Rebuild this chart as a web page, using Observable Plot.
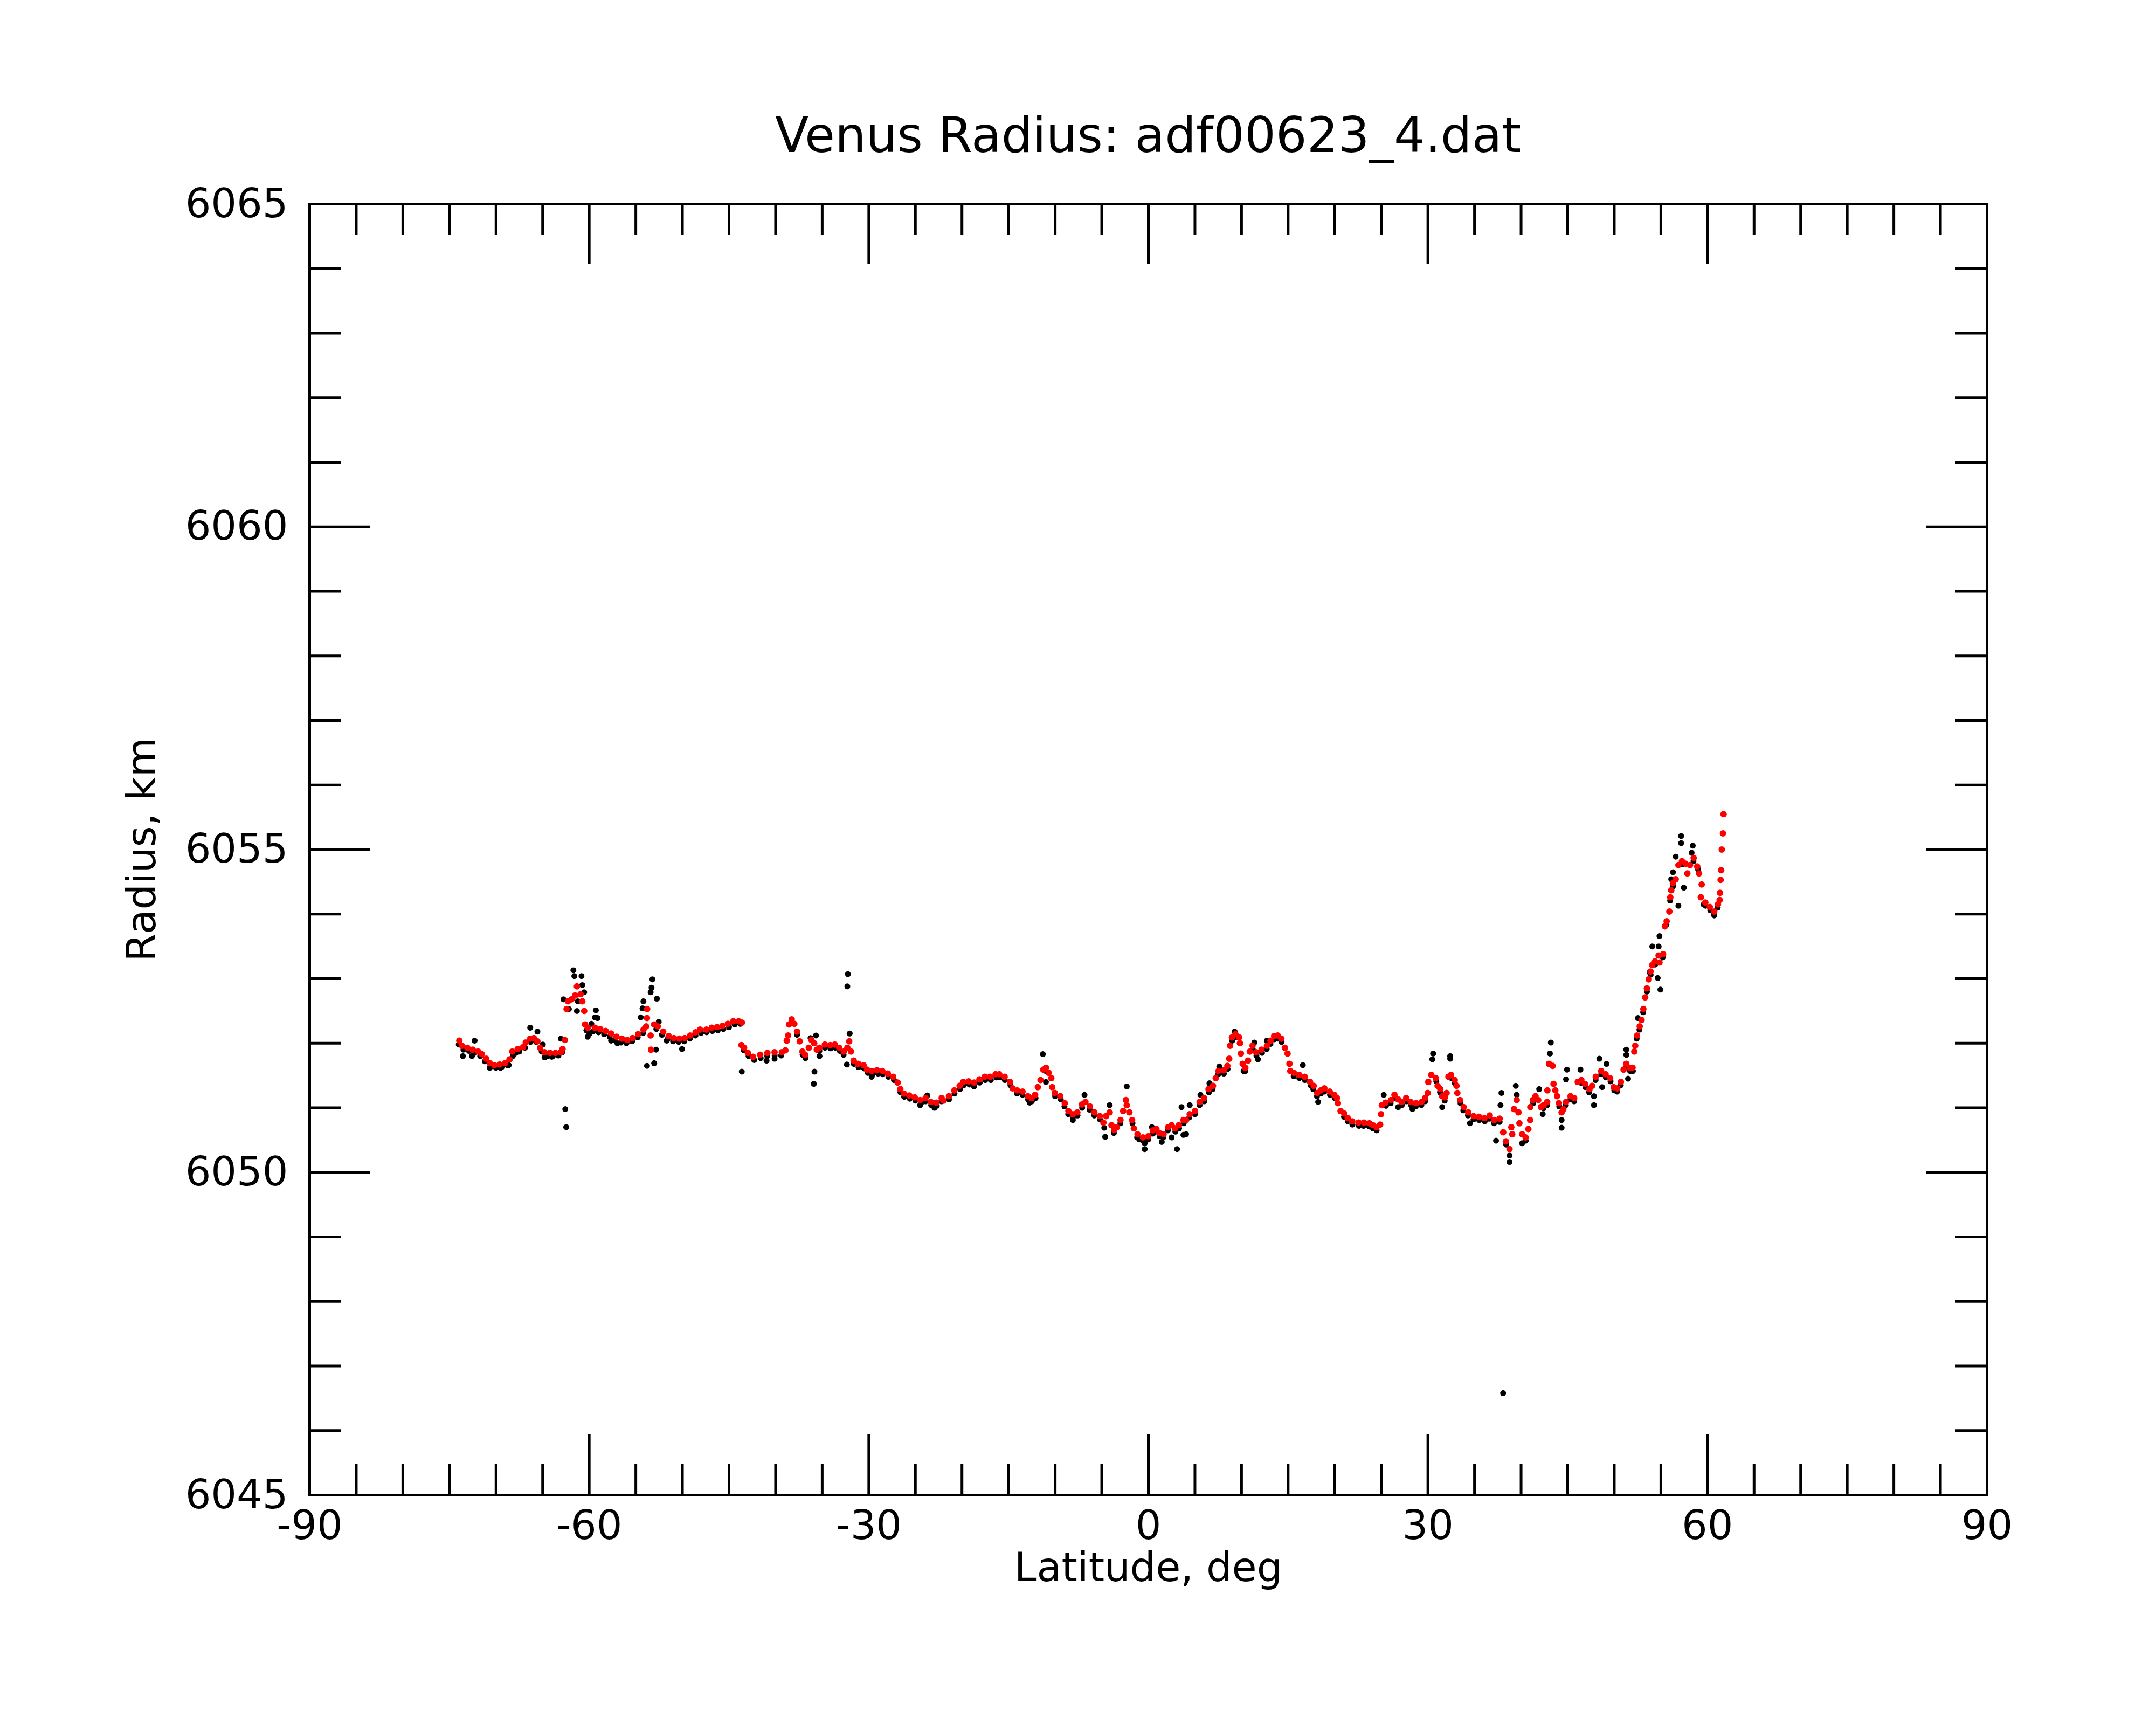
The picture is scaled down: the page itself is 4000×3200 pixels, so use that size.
<!DOCTYPE html>
<html><head><meta charset="utf-8">
<script src="https://cdn.jsdelivr.net/npm/d3@7"></script>
<script src="https://cdn.jsdelivr.net/npm/@observablehq/plot@0.6"></script>
<style>
html,body{margin:0;padding:0;background:#fff;}
#wrap{width:4000px;height:3200px;font-family:"DejaVu Sans";background:#fff;}
#title{box-sizing:border-box;height:330px;padding-top:205px;padding-left:260px;width:4000px;text-align:center;font-size:91px;line-height:91px;color:#000;font-family:"DejaVu Sans";}
</style></head><body>
<div id="wrap"><div id="title">Venus Radius: adf00623_4.dat</div><div id="chart"></div></div>
<script>
// Smoothed radius (red)
const redLat = [-73.94,-73.65,-73.08,-72.50,-71.92,-71.53,-71.05,-70.67,-70.18,-69.61,-69.03,-68.55,-68.26,-67.68,-67.10,-66.81,-66.33,-65.94,-65.56,-65.27,-64.79,-64.21,-63.63,-63.05,-62.86,-62.61,-62.43,-62.28,-61.89,-61.51,-61.32,-60.93,-60.74,-60.54,-60.45,-60.16,-59.39,-58.81,-58.23,-57.65,-57.07,-56.50,-55.92,-55.34,-54.76,-54.18,-53.89,-53.80,-53.78,-53.41,-53.37,-53.03,-52.64,-52.06,-51.48,-50.91,-50.33,-49.75,-49.17,-48.59,-48.11,-47.43,-46.85,-46.27,-45.70,-45.12,-44.54,-43.96,-43.61,-43.67,-43.38,-42.98,-42.42,-41.65,-40.88,-40.11,-39.33,-38.95,-38.80,-38.66,-38.56,-38.27,-37.99,-37.70,-37.41,-37.12,-36.83,-36.44,-36.15,-35.86,-35.58,-35.29,-34.71,-34.13,-33.65,-33.17,-32.68,-32.30,-32.10,-31.91,-31.62,-31.14,-30.56,-30.18,-29.69,-29.12,-28.54,-27.96,-27.38,-26.90,-26.61,-26.23,-25.65,-25.07,-24.49,-23.91,-23.33,-22.75,-22.18,-21.98,-21.40,-20.82,-20.25,-19.86,-19.28,-18.70,-18.12,-17.55,-16.97,-16.39,-16.00,-15.42,-14.85,-14.56,-14.08,-13.50,-12.92,-12.53,-12.15,-11.86,-11.57,-11.28,-10.99,-10.70,-10.41,-10.32,-10.03,-9.45,-8.97,-8.58,-8.10,-7.62,-7.14,-6.75,-6.27,-5.79,-5.21,-4.82,-4.53,-4.15,-3.95,-3.67,-3.38,-2.99,-2.70,-2.41,-2.32,-2.03,-1.74,-1.55,-1.16,-0.58,0.00,0.48,0.87,1.16,1.64,2.12,2.50,2.89,3.28,3.76,4.05,4.44,5.01,5.50,5.98,6.46,6.94,7.23,7.52,8.10,8.48,8.68,8.77,8.97,9.35,9.74,9.83,9.93,10.12,10.41,10.70,10.89,11.18,11.57,12.15,12.73,13.11,13.50,13.88,14.27,14.65,14.94,15.14,15.23,15.62,16.20,16.77,17.35,17.74,18.12,18.51,18.89,19.47,19.96,20.24,20.34,20.63,21.02,21.40,21.88,22.56,23.14,23.71,24.10,24.49,24.87,24.97,25.06,25.45,26.03,26.41,26.80,27.18,27.67,28.15,28.73,29.31,29.69,29.98,30.04,30.37,30.85,31.04,31.33,31.53,31.82,32.01,32.20,32.49,32.88,33.07,33.16,33.45,33.84,34.32,34.90,35.48,36.06,36.63,37.12,37.70,38.08,38.37,38.76,38.95,39.05,39.24,39.53,39.72,39.82,40.11,40.49,40.78,40.97,40.99,41.26,41.55,41.84,42.13,42.42,42.80,42.82,42.99,43.38,43.48,43.67,43.86,44.06,44.35,44.54,44.83,45.31,45.70,46.08,46.47,46.85,47.34,47.62,48.01,48.59,49.07,49.55,49.94,50.32,50.71,51.00,51.29,51.67,51.96,52.15,52.25,52.44,52.73,52.93,53.12,53.31,53.50,53.70,53.89,54.08,54.37,54.76,54.85,55.24,55.43,55.62,55.91,56.01,56.11,56.30,56.59,56.88,57.26,57.65,57.84,58.13,58.52,58.90,59.09,59.38,59.29,59.77,60.25,60.73,61.12,61.31,61.35,61.41,61.47,61.54,61.66,61.73];
const redR = [6052.04,6051.96,6051.93,6051.90,6051.87,6051.83,6051.76,6051.69,6051.66,6051.67,6051.69,6051.75,6051.87,6051.91,6051.94,6052.01,6052.07,6052.08,6052.03,6051.93,6051.86,6051.85,6051.85,6051.86,6051.91,6052.05,6052.53,6052.65,6052.68,6052.74,6052.88,6052.76,6052.65,6052.50,6052.29,6052.24,6052.24,6052.22,6052.19,6052.15,6052.10,6052.07,6052.05,6052.08,6052.14,6052.21,6052.26,6052.39,6052.53,6052.12,6051.90,6052.29,6052.26,6052.18,6052.11,6052.08,6052.07,6052.08,6052.12,6052.17,6052.21,6052.21,6052.24,6052.25,6052.27,6052.30,6052.34,6052.34,6052.32,6051.97,6051.93,6051.85,6051.79,6051.82,6051.85,6051.86,6051.86,6051.89,6052.04,6052.12,6052.29,6052.37,6052.30,6052.18,6052.03,6051.87,6051.82,6051.93,6052.05,6052.00,6051.90,6051.93,6051.98,6051.97,6051.98,6051.93,6051.87,6051.93,6052.03,6051.87,6051.73,6051.68,6051.66,6051.59,6051.57,6051.58,6051.57,6051.53,6051.48,6051.39,6051.29,6051.22,6051.19,6051.16,6051.12,6051.15,6051.09,6051.08,6051.15,6051.11,6051.18,6051.27,6051.34,6051.40,6051.41,6051.39,6051.44,6051.48,6051.48,6051.52,6051.52,6051.48,6051.40,6051.30,6051.27,6051.25,6051.18,6051.15,6051.20,6051.32,6051.43,6051.59,6051.62,6051.54,6051.46,6051.32,6051.23,6051.18,6051.07,6050.95,6050.90,6050.93,6051.05,6051.09,6051.02,6050.93,6050.87,6050.77,6050.87,6050.93,6050.73,6050.66,6050.70,6050.81,6050.95,6051.12,6051.04,6050.93,6050.81,6050.68,6050.59,6050.54,6050.56,6050.65,6050.67,6050.61,6050.59,6050.70,6050.73,6050.68,6050.73,6050.81,6050.81,6050.90,6050.95,6051.09,6051.15,6051.29,6051.34,6051.46,6051.57,6051.58,6051.65,6051.76,6051.96,6052.09,6052.14,6052.09,6052.00,6051.84,6051.68,6051.62,6051.73,6051.87,6051.96,6051.86,6051.90,6051.96,6052.04,6052.11,6052.12,6052.07,6051.93,6051.84,6051.68,6051.57,6051.54,6051.51,6051.48,6051.40,6051.34,6051.23,6051.27,6051.30,6051.25,6051.20,6051.15,6051.07,6050.95,6050.91,6050.84,6050.79,6050.77,6050.77,6050.76,6050.73,6050.70,6050.74,6050.90,6051.04,6051.08,6051.12,6051.20,6051.13,6051.09,6051.15,6051.09,6051.07,6051.09,6051.15,6051.23,6051.40,6051.51,6051.46,6051.34,6051.29,6051.18,6051.16,6051.23,6051.48,6051.51,6051.43,6051.34,6051.23,6051.12,6051.01,6050.93,6050.87,6050.86,6050.84,6050.88,6050.81,6050.83,6050.62,6050.48,6050.36,6050.70,6050.59,6050.98,6051.12,6050.93,6050.76,6050.59,6050.54,6050.67,6050.81,6051.01,6051.12,6051.18,6051.12,6051.01,6051.04,6051.09,6051.27,6051.68,6051.65,6051.37,6051.27,6051.18,6051.07,6050.93,6050.98,6051.09,6051.18,6051.15,6051.40,6051.43,6051.37,6051.29,6051.34,6051.48,6051.57,6051.52,6051.46,6051.32,6051.30,6051.40,6051.59,6051.68,6051.62,6051.62,6051.87,6051.96,6052.12,6052.26,6052.36,6052.53,6052.71,6052.85,6052.99,6053.11,6053.21,6053.27,6053.36,6053.25,6053.38,6053.81,6053.89,6054.04,6054.26,6054.37,6054.48,6054.54,6054.76,6054.82,6054.78,6054.63,6054.76,6054.87,6054.74,6054.63,6054.46,6054.26,6054.18,6054.11,6054.04,6054.15,6054.22,6054.33,6054.53,6054.68,6055.00,6055.25,6055.55];

// Raw radius samples (black): track points
const blackLat = [-74.0,-73.5,-72.9,-72.3,-71.7,-71.2,-70.6,-70.0,-69.4,-68.8,-68.2,-67.5,-66.9,-66.3,-65.7,-65.1,-64.5,-63.9,-63.3,-62.9,-60.3,-59.6,-59.0,-58.4,-57.8,-57.2,-56.6,-56.0,-55.4,-54.8,-54.2,-52.8,-52.2,-51.6,-51.0,-50.4,-49.8,-49.2,-48.6,-48.0,-47.4,-46.8,-46.2,-45.6,-45.0,-44.4,-43.8,-43.4,-42.9,-42.3,-41.6,-40.9,-40.1,-39.4,-38.3,-37.7,-37.1,-36.8,-35.3,-34.7,-34.1,-33.6,-33.1,-32.7,-31.6,-31.1,-30.5,-30.1,-29.6,-29.0,-28.5,-27.9,-27.3,-26.6,-26.2,-25.6,-25.0,-24.4,-23.9,-23.3,-22.7,-22.2,-21.4,-20.8,-20.2,-19.8,-19.2,-18.1,-17.5,-16.9,-16.3,-15.9,-15.4,-14.8,-14.1,-13.5,-12.9,-12.5,-12.1,-11.0,-10.0,-9.4,-9.0,-8.6,-8.1,-7.6,-7.1,-6.3,-5.8,-5.2,-3.7,-3.0,-1.7,-1.2,-0.6,0.0,0.5,1.2,1.6,2.1,2.9,3.3,3.8,4.4,5.0,5.5,6.0,6.5,6.9,7.5,8.1,8.5,9.0,9.3,10.4,11.2,11.6,12.2,12.7,13.1,13.5,13.9,14.3,15.6,16.2,16.8,17.4,17.7,18.1,18.5,18.9,19.5,20.0,21.0,21.4,21.9,22.6,23.1,23.7,24.1,24.5,25.5,26.0,26.4,27.2,27.7,28.2,28.7,29.3,29.7,30.9,31.3,31.8,32.5,32.9,33.5,33.8,34.3,34.9,35.5,36.1,36.6,37.1,37.7,38.4,40.5,41.3,41.6,42.4,42.8,44.1,44.8,45.3,45.7,46.5,46.9,47.3,48.0,48.6,49.1,49.6,50.0,50.3,50.7,51.3,51.7,52.0,52.4,52.7,53.1,53.5,53.9,54.4,55.2,55.6,56.0,56.3,57.3,58.5,59.0,59.8,60.3,60.7,61.1];
const blackR = [6051.98,6051.90,6051.88,6051.85,6051.80,6051.72,6051.64,6051.62,6051.63,6051.66,6051.80,6051.87,6051.93,6052.02,6052.02,6051.87,6051.80,6051.80,6051.81,6051.86,6052.20,6052.18,6052.17,6052.14,6052.10,6052.05,6052.01,6052.00,6052.03,6052.09,6052.16,6052.22,6052.13,6052.06,6052.03,6052.02,6052.03,6052.07,6052.12,6052.16,6052.17,6052.19,6052.20,6052.22,6052.25,6052.29,6052.30,6051.89,6051.80,6051.74,6051.77,6051.80,6051.81,6051.81,6052.33,6052.13,6051.82,6051.77,6051.88,6051.93,6051.92,6051.93,6051.88,6051.82,6051.68,6051.63,6051.61,6051.54,6051.52,6051.53,6051.52,6051.48,6051.43,6051.24,6051.17,6051.14,6051.11,6051.07,6051.10,6051.04,6051.03,6051.10,6051.13,6051.22,6051.29,6051.35,6051.36,6051.39,6051.43,6051.43,6051.47,6051.47,6051.43,6051.35,6051.22,6051.20,6051.13,6051.10,6051.15,6051.57,6051.18,6051.13,6051.02,6050.90,6050.85,6050.88,6051.00,6050.97,6050.88,6050.82,6050.61,6050.76,6050.76,6050.54,6050.49,6050.51,6050.60,6050.56,6050.54,6050.65,6050.63,6050.68,6050.76,6050.85,6050.90,6051.04,6051.10,6051.24,6051.29,6051.52,6051.53,6051.60,6052.04,6052.09,6051.57,6051.91,6051.81,6051.85,6051.91,6051.99,6052.06,6052.07,6052.02,6051.49,6051.46,6051.43,6051.35,6051.29,6051.18,6051.22,6051.25,6051.20,6051.15,6050.86,6050.79,6050.74,6050.72,6050.72,6050.71,6050.68,6050.65,6051.03,6051.07,6051.15,6051.04,6051.10,6051.04,6051.02,6051.04,6051.10,6051.41,6051.24,6051.11,6051.46,6051.38,6051.07,6050.96,6050.88,6050.82,6050.81,6050.79,6050.83,6050.76,6050.78,6050.43,6050.49,6051.07,6051.13,6050.99,6051.04,6051.02,6051.04,6051.13,6051.10,6051.38,6051.32,6051.24,6051.43,6051.52,6051.47,6051.41,6051.27,6051.25,6051.35,6051.63,6051.57,6051.57,6052.07,6052.21,6052.48,6052.80,6053.06,6053.22,6053.33,6053.84,6054.21,6054.43,6054.77,6054.82,6054.69,6054.13,6054.06,6053.99,6054.10];

// Raw radius samples (black): scattered points off the track
const outLat = [-73.56,-72.59,-72.30,-70.67,-69.51,-68.64,-67.87,-66.33,-65.56,-64.98,-64.79,-64.01,-63.05,-62.76,-62.57,-62.47,-62.18,-61.70,-61.60,-61.32,-61.22,-60.83,-60.74,-60.54,-60.16,-59.97,-59.77,-59.39,-59.29,-59.10,-57.65,-56.98,-54.47,-54.28,-54.18,-53.80,-53.41,-53.31,-53.22,-53.03,-52.83,-52.74,-52.54,-51.68,-50.04,-43.63,-40.97,-40.11,-36.25,-35.83,-35.90,-35.67,-35.29,-32.35,-32.30,-32.24,-32.05,-29.69,-24.49,-23.72,-22.95,-18.70,-12.73,-11.32,-10.99,-8.10,-6.85,-4.73,-4.63,-4.15,-2.32,-0.96,-0.39,-0.39,0.38,1.44,2.50,3.08,3.56,3.76,4.05,4.44,5.59,6.56,7.62,9.26,10.22,11.38,11.76,12.73,16.58,18.22,25.26,26.80,28.34,30.47,30.56,31.53,32.39,32.39,34.51,37.31,37.79,37.89,38.07,38.76,38.76,39.43,39.53,40.11,41.94,42.32,43.09,43.19,44.35,44.35,44.83,44.93,46.37,47.82,47.82,48.40,48.69,49.16,50.23,51.29,51.29,51.48,52.54,53.79,54.08,54.66,54.76,54.85,54.95,56.11,56.30,56.59,56.88,57.17,57.17,57.46,58.42,58.30,59.58,60.73];
const outR = [6051.80,6051.80,6052.04,6051.62,6051.62,6051.66,6051.85,6052.24,6052.18,6051.98,6051.78,6051.79,6052.07,6052.68,6050.98,6050.70,6052.53,6053.13,6053.04,6052.50,6052.65,6053.04,6052.90,6052.79,6052.10,6052.15,6052.30,6052.40,6052.51,6052.39,6052.04,6052.00,6052.40,6052.54,6052.65,6051.65,6052.79,6052.86,6052.99,6051.69,6051.90,6052.69,6052.33,6052.04,6051.91,6051.56,6051.73,6051.76,6052.08,6051.56,6051.37,6052.12,6051.80,6051.67,6052.88,6053.07,6052.15,6051.48,6051.04,6051.19,6051.00,6051.33,6051.08,6051.83,6051.40,6050.81,6051.20,6050.69,6050.55,6051.04,6051.33,6050.51,6050.45,6050.36,6050.70,6050.47,6050.54,6050.36,6051.01,6050.58,6050.59,6051.04,6051.20,6051.38,6051.64,6052.18,6051.57,6052.01,6051.75,6052.04,6051.66,6051.09,6051.20,6051.01,6050.98,6051.75,6051.84,6051.01,6051.80,6051.76,6050.76,6050.49,6051.04,6051.23,6046.58,6050.16,6050.26,6051.34,6051.20,6050.45,6051.29,6050.90,6051.84,6052.01,6050.81,6050.69,6051.44,6051.59,6051.59,6051.04,6051.18,6051.76,6051.32,6051.68,6051.26,6051.90,6051.82,6051.45,6052.39,6053.10,6053.50,6053.01,6053.50,6053.66,6052.83,6054.54,6054.65,6054.89,6054.13,6055.21,6055.10,6054.41,6055.06,6054.95,6054.15,6053.98];

// Axis ticks
const xMajor = [-90, -60, -30, 0, 30, 60, 90];
const xMinor = [-85,-80,-75,-70,-65,-55,-50,-45,-40,-35,-25,-20,-15,-10,-5,5,10,15,20,25,35,40,45,50,55,65,70,75,80,85];
const yMajor = [6045, 6050, 6055, 6060, 6065];
const yMinor = [6046,6047,6048,6049,6051,6052,6053,6054,6056,6057,6058,6059,6061,6062,6063,6064];
const xLabel = "Latitude, deg";
const yLabel = "Radius, km";

const W = 4000, H = 2870, mT = 48, mB = 427, mL = 574, mR = 314;
const FW = W - mL - mR, FH = H - mT - mB;
const MAJ = 112, MIN = 58, SW = 5;

const black = blackLat.map((d, i) => ({lat: d, r: blackR[i]})).concat(outLat.map((d, i) => ({lat: d, r: outR[i]})));
const red = redLat.map((d, i) => ({lat: d, r: redR[i]}));

const chart = Plot.plot({
  width: W, height: H,
  marginTop: mT, marginBottom: mB, marginLeft: mL, marginRight: mR,
  style: {fontFamily: "DejaVu Sans", fontSize: "75px", background: "white", color: "black"},
  x: {domain: [-90, 90]},
  y: {domain: [6045, 6065]},
  marks: [
    Plot.dot(black, {x: "lat", y: "r", r: 5.5, fill: "black", stroke: null}),
    Plot.dot(red, {x: "lat", y: "r", r: 6, fill: "#ff0000", stroke: null}),
    // bottom & top ticks (inward)
    Plot.tickX(xMajor, {x: d => d, insetTop: FH - MAJ, stroke: "black", strokeWidth: SW}),
    Plot.tickX(xMinor, {x: d => d, insetTop: FH - MIN, stroke: "black", strokeWidth: SW}),
    Plot.tickX(xMajor, {x: d => d, insetBottom: FH - MAJ, stroke: "black", strokeWidth: SW}),
    Plot.tickX(xMinor, {x: d => d, insetBottom: FH - MIN, stroke: "black", strokeWidth: SW}),
    // left & right ticks (inward)
    Plot.tickY(yMajor, {y: d => d, insetRight: FW - MAJ, stroke: "black", strokeWidth: SW}),
    Plot.tickY(yMinor, {y: d => d, insetRight: FW - MIN, stroke: "black", strokeWidth: SW}),
    Plot.tickY(yMajor, {y: d => d, insetLeft: FW - MAJ, stroke: "black", strokeWidth: SW}),
    Plot.tickY(yMinor, {y: d => d, insetLeft: FW - MIN, stroke: "black", strokeWidth: SW}),
    Plot.frame({stroke: "black", strokeWidth: SW}),
    Plot.axisX({ticks: xMajor, anchor: "bottom", tickSize: 0, tickPadding: 28, fontSize: 75, tickFormat: d => String(d), label: null}),
    Plot.axisY({ticks: yMajor, anchor: "left", tickSize: 0, tickPadding: 40, fontSize: 75, tickFormat: d => String(d), label: null}),
    Plot.text([xLabel], {text: d => d, frameAnchor: "bottom", dy: 135, fontSize: 75, lineAnchor: "middle", textAnchor: "middle", fill: "black"}),
    Plot.text([yLabel], {text: d => d, frameAnchor: "left", dx: -311, rotate: -90, fontSize: 75, lineAnchor: "middle", textAnchor: "middle", fill: "black"})
  ]
});
document.getElementById("chart").appendChild(chart);
</script>
</body></html>
